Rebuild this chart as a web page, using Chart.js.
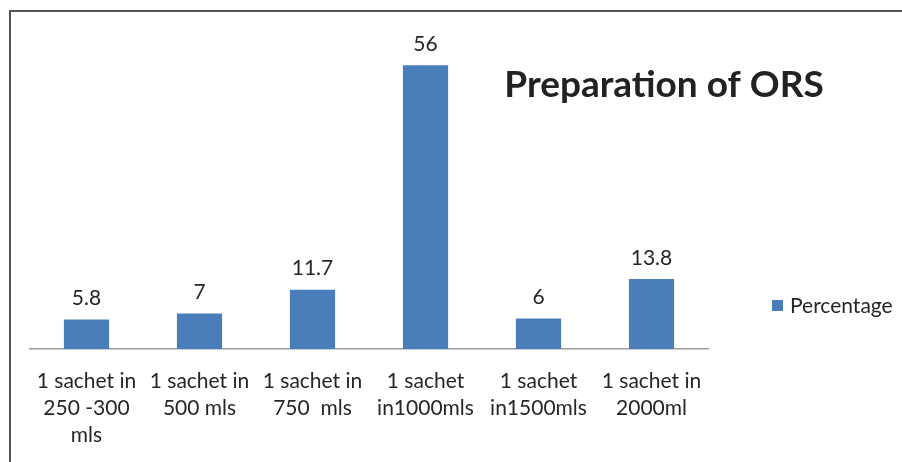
<!DOCTYPE html>
<html>
<head>
<meta charset="utf-8">
<script src="https://cdn.jsdelivr.net/npm/chart.js@4/dist/chart.umd.min.js"></script>
<style>
  html, body { margin: 0; padding: 0; background: #fff; }
  #wrap { position: relative; width: 902px; height: 462px; }
</style>
</head>
<body>
<div id="wrap"><canvas id="ors-chart" width="902" height="462"></canvas></div>
<script>
// chart data
const categories = [
  ['1 sachet in', '250 -300', 'mls'],
  ['1 sachet in', '500 mls'],
  ['1 sachet in', '750  mls'],
  ['1 sachet', 'in1000mls'],
  ['1 sachet', 'in1500mls'],
  ['1 sachet in', '2000ml']
];
const percentages = [5.8, 7, 11.7, 56, 6, 13.8];
const seriesName = 'Percentage';
const chartTitle = 'Preparation of ORS';

const FONT = 'Lato, "Liberation Sans", sans-serif';
const TEXT = '#262626';
const BLUE = '#4a7ebb';

// frame, title, legend and value labels
const decorations = {
  id: 'decorations',
  beforeDraw(chart) {
    const ctx = chart.ctx;
    ctx.save();
    ctx.strokeStyle = '#555';
    ctx.lineWidth = 2;
    ctx.beginPath();
    ctx.moveTo(10, 462);
    ctx.lineTo(10, 11);
    ctx.lineTo(902, 11);
    ctx.stroke();
    ctx.restore();
  },
  afterDatasetsDraw(chart) {
    const ctx = chart.ctx;
    ctx.save();

    // values above bars
    const meta = chart.getDatasetMeta(0);
    ctx.fillStyle = TEXT;
    ctx.font = '21px ' + FONT;
    ctx.textAlign = 'center';
    ctx.textBaseline = 'middle';
    meta.data.forEach((bar, i) => {
      ctx.fillText(String(percentages[i]), bar.x, bar.y - 21);
    });

    // title
    ctx.font = 'bold 37px ' + FONT;
    ctx.fillStyle = '#222';
    ctx.fillText(chartTitle, 664, 85);

    // legend
    ctx.fillStyle = BLUE;
    ctx.fillRect(772, 300, 11, 11);
    ctx.fillStyle = TEXT;
    ctx.font = '21px ' + FONT;
    ctx.textAlign = 'left';
    ctx.fillText(seriesName, 790, 306);
    ctx.restore();
  }
};

new Chart(document.getElementById('ors-chart'), {
  type: 'bar',
  data: {
    labels: categories,
    datasets: [{
      label: seriesName,
      data: percentages,
      backgroundColor: BLUE,
      barPercentage: 0.4,
      categoryPercentage: 1
    }]
  },
  options: {
    responsive: false,
    animation: false,
    events: [],
    layout: { padding: { left: 30, right: 194, top: 45, bottom: 0 } },
    plugins: {
      legend: { display: false },
      tooltip: { enabled: false }
    },
    scales: {
      x: {
        grid: { display: false },
        border: { display: true, color: '#9c9c9c', width: 1.5 },
        ticks: {
          color: TEXT,
          font: { family: FONT, size: 21, lineHeight: 1.29 },
          padding: 11,
          maxRotation: 0,
          autoSkip: false
        },
        afterFit(scale) { scale.height = 113; }
      },
      y: {
        display: false,
        min: 0,
        max: 60
      }
    }
  },
  plugins: [decorations]
});
</script>
</body>
</html>
